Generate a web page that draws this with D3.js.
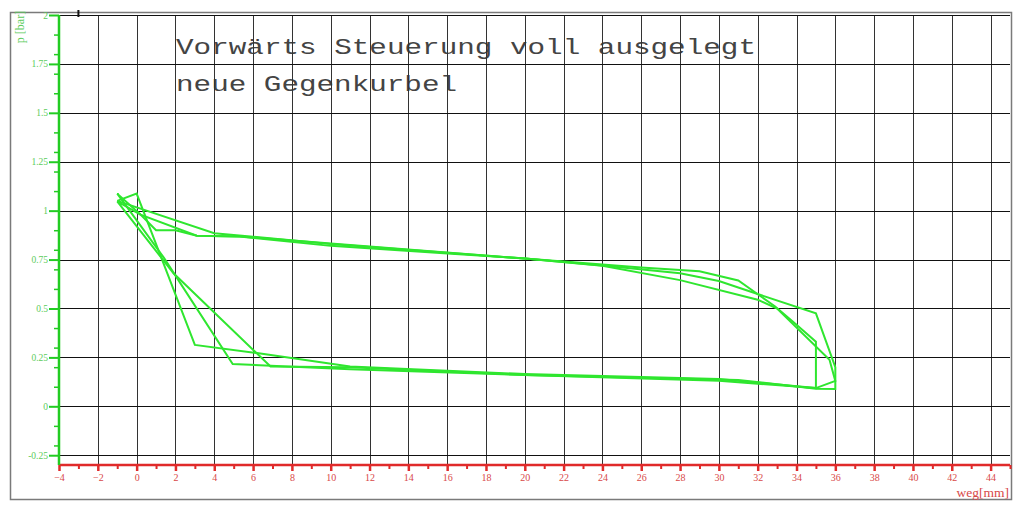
<!DOCTYPE html>
<html>
<head>
<meta charset="utf-8">
<script src="https://cdn.jsdelivr.net/npm/d3@7"></script>
<style>
  html, body { margin: 0; padding: 0; background: #fff; }
  svg { display: block; }
</style>
</head>
<body>
<svg id="chart" width="1024" height="505"></svg>
<script>
// ---- data ----
const titleLines = ["Vorwärts Steuerung voll ausgelegt", "neue Gegenkurbel"];
const xLabel = "weg[mm]";
const yLabel = "p [bar]";
const xMajorTicks = [-4,-2,0,2,4,6,8,10,12,14,16,18,20,22,24,26,28,30,32,34,36,38,40,42,44];
const xMinorTicks = [-3,-1,1,3,5,7,9,11,13,15,17,19,21,23,25,27,29,31,33,35,37,39,41,43,45];
const yMajorTicks = [-0.25,0,0.25,0.5,0.75,1,1.25,1.5,1.75,2];
const yMinorTicks = [-0.2,-0.1,0.1,0.2,0.3,0.4,0.6,0.7,0.8,0.9,1.1,1.2,1.3,1.4,1.6,1.7,1.8,1.9];

// three recorded cycles of the indicator diagram (weg [mm], p [bar])
const cycle1X = [-1.0, 0.0, 3.0, 6.2, 11.0, 20.0, 30.0, 35.0, 35.0, 34.0, 32.9, 31.0, 29.0, 26.0, 20.0, 10.0, 4.0, -1.0];
const cycle1Y = [1.05, 1.087, 0.314, 0.272, 0.203, 0.165, 0.14, 0.093, 0.33, 0.417, 0.51, 0.643, 0.69, 0.71, 0.755, 0.83, 0.885, 1.05];

const cycle2X = [-1.0, 1.4, 4.95, 11.0, 20.0, 31.0, 35.0, 36.0, 36.0, 35.0, 30.0, 28.0, 24.0, 20.0, 10.0, 5.3, 3.1, 0.2, -1.0];
const cycle2Y = [1.087, 0.76, 0.216, 0.19, 0.16, 0.135, 0.09, 0.088, 0.2, 0.475, 0.64, 0.68, 0.72, 0.755, 0.82, 0.868, 0.872, 0.98, 1.087];

const cycle3X = [-1.0, 0.2, 1.0, 2.0, 3.1, 5.3, 20.0, 24.0, 28.0, 32.0, 33.0, 35.7, 36.0, 35.0, 30.0, 20.0, 11.0, 6.9, 1.9, -1.0];
const cycle3Y = [1.047, 0.98, 0.9, 0.9, 0.872, 0.868, 0.755, 0.718, 0.645, 0.545, 0.5, 0.238, 0.13, 0.093, 0.13, 0.16, 0.2, 0.203, 0.68, 1.047];

const cycles = [[cycle1X, cycle1Y], [cycle2X, cycle2Y], [cycle3X, cycle3Y]];

// ---- drawing ----
const svg = d3.select("#chart");
const x = d3.scaleLinear().domain([-4, 45]).range([59, 1010]);
const y = d3.scaleLinear().domain([-0.3, 2]).range([465, 15]);

// outer frame
svg.append("rect")
  .attr("x", 10.5).attr("y", 12.5).attr("width", 1001).attr("height", 487)
  .attr("fill", "none").attr("stroke", "#7a7a7a").attr("stroke-width", 1.5);

// title text (grid drawn over it)
const title = svg.append("g").attr("font-family", "'Liberation Mono', 'DejaVu Sans Mono', monospace")
  .attr("font-size", 22).attr("fill", "#444");
title.append("text").attr("x", 176).attr("y", 54).text(titleLines[0])
  .attr("textLength", 580).attr("lengthAdjust", "spacingAndGlyphs");
title.append("text").attr("x", 176).attr("y", 91).text(titleLines[1])
  .attr("textLength", 281).attr("lengthAdjust", "spacingAndGlyphs");

// grid
const grid = svg.append("g").attr("shape-rendering", "crispEdges");
grid.selectAll("line.v").data(xMajorTicks.filter(d => d > -4)).join("line")
  .attr("class", "v")
  .attr("x1", d => Math.round(x(d)) + 0.5).attr("x2", d => Math.round(x(d)) + 0.5)
  .attr("y1", y(2)).attr("y2", y(-0.3))
  .attr("stroke", "#333").attr("stroke-width", 1);
grid.selectAll("line.h").data(yMajorTicks).join("line")
  .attr("class", "h")
  .attr("x1", x(-4)).attr("x2", x(45))
  .attr("y1", d => Math.round(y(d)) + 0.5).attr("y2", d => Math.round(y(d)) + 0.5)
  .attr("stroke", "#111").attr("stroke-width", 1);

// small cursor mark at top
svg.append("line")
  .attr("x1", x(-3)).attr("x2", x(-3)).attr("y1", 10).attr("y2", 17)
  .attr("stroke", "#111").attr("stroke-width", 2);

// data lines
const line = d3.line().x(d => x(d[0])).y(d => y(d[1]));
svg.append("g").selectAll("path").data(cycles).join("path")
  .attr("d", c => line(c[0].map((v, i) => [v, c[1][i]])))
  .attr("fill", "none").attr("stroke", "#2fe62f").attr("stroke-width", 2)
  .attr("stroke-linejoin", "miter");

// x axis (red)
const xRed = "#e02a2a";
const xAxisG = svg.append("g").attr("transform", `translate(0,${y(-0.3)})`);
xAxisG.append("g").call(d3.axisBottom(x).tickValues(xMinorTicks).tickSize(4).tickFormat(""))
  .call(g => g.select(".domain").remove())
  .call(g => g.selectAll("line").attr("stroke", xRed).attr("stroke-width", 2));
xAxisG.append("g").call(d3.axisBottom(x).tickValues(xMajorTicks).tickSize(6).tickPadding(3).tickFormat(d3.format("d")))
  .call(g => g.select(".domain").attr("stroke", xRed).attr("stroke-width", 2.5).attr("d", `M${x(-4)},0H${x(45)}`))
  .call(g => g.selectAll("line").attr("stroke", xRed).attr("stroke-width", 2.5))
  .call(g => g.selectAll("text").attr("fill", "#d84848").attr("font-size", 10)
    .attr("font-family", "'Liberation Serif', 'Times New Roman', serif"));
svg.append("text").attr("x", 1009).attr("y", 497).attr("text-anchor", "end")
  .attr("font-family", "'Liberation Serif', 'Times New Roman', serif").attr("font-size", 13.5)
  .attr("fill", "#d84848").text(xLabel);

// y axis (green)
const yGreen = "#22cc22";
const yAxisG = svg.append("g").attr("transform", `translate(${x(-4)},0)`);
yAxisG.append("g").call(d3.axisLeft(y).tickValues(yMinorTicks).tickSize(5).tickFormat(""))
  .call(g => g.select(".domain").remove())
  .call(g => g.selectAll("line").attr("stroke", yGreen).attr("stroke-width", 1.5));
yAxisG.append("g").call(d3.axisLeft(y).tickValues(yMajorTicks).tickSize(10).tickPadding(1).tickFormat(d => String(d)))
  .call(g => g.select(".domain").attr("stroke", yGreen).attr("stroke-width", 2.5).attr("d", `M0,${y(2)}V${y(-0.3)}`))
  .call(g => g.selectAll("line").attr("stroke", yGreen).attr("stroke-width", 2))
  .call(g => g.selectAll("text").attr("fill", "#5ccc5c").attr("font-size", 9.5)
    .attr("font-family", "'Liberation Serif', 'Times New Roman', serif"));
svg.append("text")
  .attr("transform", "translate(24,27) rotate(-90)")
  .attr("text-anchor", "middle")
  .attr("font-family", "'Liberation Serif', 'Times New Roman', serif").attr("font-size", 12)
  .attr("fill", "#5ccc5c").text(yLabel);
</script>
</body>
</html>
